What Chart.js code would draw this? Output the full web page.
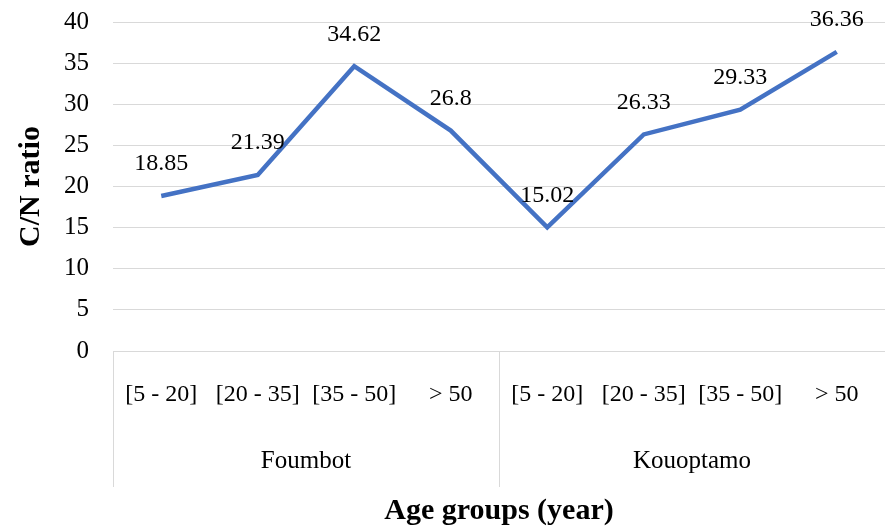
<!DOCTYPE html>
<html>
<head>
<meta charset="utf-8">
<script src="https://cdn.jsdelivr.net/npm/chart.js@4"></script>
<style>
  html, body { margin: 0; padding: 0; background: #fff; }
  #wrap { width: 885px; height: 529px; position: relative; }
</style>
</head>
<body>
<div id="wrap"><canvas id="cnChart"></canvas></div>
<script>
// データ
const ageGroups = ['[5 - 20]', '[20 - 35]', '[35 - 50]', '> 50', '[5 - 20]', '[20 - 35]', '[35 - 50]', '> 50'];
const sites = ['Foumbot', 'Kouoptamo'];
const siteSizes = [4, 4];
const cnRatio = [18.85, 21.39, 34.62, 26.8, 15.02, 26.33, 29.33, 36.36];
const yTicks = [0, 5, 10, 15, 20, 25, 30, 35, 40];

const FONT = '"Liberation Serif", "Times New Roman", serif';

// 値ラベル
const valueLabels = {
    id: 'valueLabels',
    afterDatasetsDraw(chart) {
        const ctx = chart.ctx;
        const meta = chart.getDatasetMeta(0);
        ctx.save();
        ctx.font = '24px ' + FONT;
        ctx.fillStyle = '#000';
        ctx.textAlign = 'center';
        ctx.textBaseline = 'middle';
        meta.data.forEach((pt, i) => {
            ctx.fillText(String(cnRatio[i]), pt.x, pt.y - 32);
        });
        ctx.restore();
    }
};

// 2段目のカテゴリ（地域）と区切り線
const groupAxis = {
    id: 'groupAxis',
    afterDraw(chart) {
        const x = chart.scales.x;
        const ctx = chart.ctx;
        const step = (x.right - x.left) / ageGroups.length;
        const top = x.top;
        const bottom = top + 136;
        ctx.save();
        ctx.strokeStyle = '#d9d9d9';
        ctx.lineWidth = 1;
        let start = 0;
        const bounds = [0];
        siteSizes.forEach(n => { start += n; bounds.push(start); });
        bounds.forEach(b => {
            const px = Math.round(x.left + b * step) + 0.5;
            ctx.beginPath();
            ctx.moveTo(px, top);
            ctx.lineTo(px, bottom);
            ctx.stroke();
        });
        ctx.font = '25px ' + FONT;
        ctx.fillStyle = '#000';
        ctx.textAlign = 'center';
        ctx.textBaseline = 'middle';
        sites.forEach((s, i) => {
            const cx = x.left + (bounds[i] + bounds[i + 1]) / 2 * step;
            ctx.fillText(s, cx, top + 110);
        });
        ctx.restore();
    }
};

const ctx = document.getElementById('cnChart').getContext('2d');
new Chart(ctx, {
    type: 'line',
    data: {
        labels: ageGroups,
        datasets: [{
            label: 'C/N ratio',
            data: cnRatio,
            borderColor: '#4472C4',
            borderWidth: 4.5,
            pointRadius: 0,
            fill: false,
            tension: 0
        }]
    },
    options: {
        responsive: true,
        maintainAspectRatio: false,
        animation: false,
        layout: { padding: { top: 22, right: 0, left: 0, bottom: 0 } },
        plugins: {
            legend: { display: false },
            tooltip: { enabled: false }
        },
        scales: {
            x: {
                offset: true,
                grid: { display: false },
                border: { display: true, color: '#d9d9d9', width: 1 },
                ticks: {
                    autoSkip: false,
                    maxRotation: 0,
                    padding: 21,
                    color: '#000',
                    font: { family: FONT, size: 24 }
                },
                title: {
                    display: true,
                    text: 'Age groups (year)',
                    color: '#000',
                    font: { family: FONT, size: 30, weight: 'bold' },
                    padding: { top: 0, bottom: 0 }
                },
                afterFit(scale) {
                    scale.height = 178;
                    scale.paddingLeft = 0;
                    scale.paddingRight = 0;
                }
            },
            y: {
                min: 0,
                max: 40,
                afterBuildTicks(scale) {
                    scale.ticks = yTicks.map(v => ({ value: v }));
                },
                grid: { color: '#d9d9d9', lineWidth: 1, drawTicks: false },
                border: { display: false },
                ticks: {
                    padding: 24,
                    color: '#000',
                    font: { family: FONT, size: 25 }
                },
                title: {
                    display: true,
                    text: 'C/N ratio',
                    color: '#000',
                    font: { family: FONT, size: 30, weight: 'bold' },
                    padding: { top: 13, bottom: 0 }
                },
                afterFit(scale) {
                    scale.width = 113;
                    scale.paddingTop = 0;
                    scale.paddingBottom = 0;
                }
            }
        }
    },
    plugins: [valueLabels, groupAxis]
});
</script>
</body>
</html>
